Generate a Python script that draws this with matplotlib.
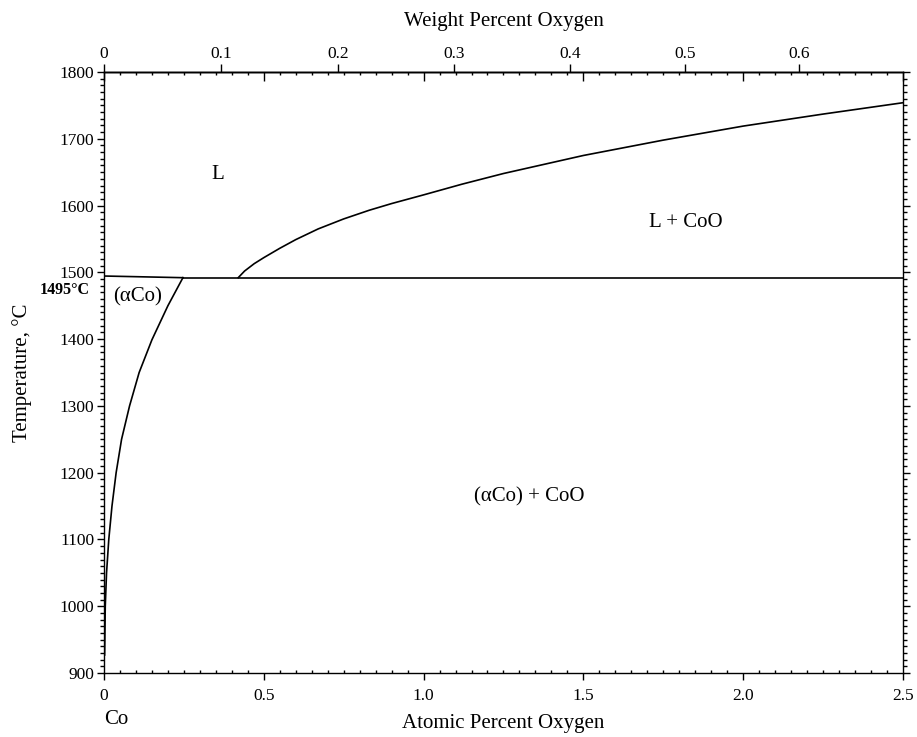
"""
Co-O phase diagram (Co-rich end), atomic percent on the bottom,
weight percent on top. Boundaries read off the reference figure.
"""

import matplotlib
matplotlib.use("Agg")
import matplotlib.pyplot as plt
import numpy as np
from matplotlib.ticker import MultipleLocator, NullFormatter

plt.rcParams["font.family"] = ["Liberation Serif", "DejaVu Serif"]

M_CO = 58.933
M_O = 15.999

# solidus/solvus of (aCo): at.% O, deg C
solvus_x = [0.002, 0.004, 0.008, 0.015, 0.025, 0.038, 0.055, 0.08, 0.11, 0.15, 0.2, 0.247]
solvus_t = [927, 1000, 1050, 1100, 1150, 1200, 1250, 1300, 1350, 1399, 1450, 1492]

# liquidus Co side, nearly flat
liq_co_x = [0.0, 0.1, 0.247]
liq_co_t = [1494.5, 1493.5, 1492]

# eutectic / monotectic horizontal
eut_x = [0.247, 2.5]
eut_t = [1492, 1492]

# liquidus of CoO
liq_x = [0.42, 0.44, 0.47, 0.5, 0.55, 0.6, 0.67, 0.75, 0.83, 0.9, 1.0, 1.12,
         1.25, 1.5, 1.75, 2.0, 2.25, 2.5]
liq_t = [1492, 1502, 1513, 1522, 1536, 1549, 1565, 1580, 1593, 1603, 1616, 1632,
         1648, 1675, 1698, 1719, 1737, 1754]

labels = ["L", "L + CoO", "(\u03b1Co)", "(\u03b1Co) + CoO"]
label_x = [0.355, 1.82, 0.105, 1.33]
label_t = [1646, 1575, 1463, 1164]

wt_ticks = [0, 0.1, 0.2, 0.3, 0.4, 0.5, 0.6]


def at2wt(a):
    a = np.asarray(a, dtype=float)
    return 100 * a * M_O / (a * M_O + (100 - a) * M_CO)


def wt2at(w):
    w = np.asarray(w, dtype=float)
    return 100 * (w / M_O) / (w / M_O + (100 - w) / M_CO)


fig = plt.figure(figsize=(9.17, 7.37), dpi=100)
ax = fig.add_axes([0.1134, 0.0868, 0.8713, 0.8155])

line_kw = dict(color="black", lw=1.2)
ax.plot(solvus_x, solvus_t, **line_kw)
ax.plot(liq_co_x, liq_co_t, **line_kw)
ax.plot(eut_x, eut_t, **line_kw)
ax.plot(liq_x, liq_t, **line_kw)

for s, x, t in zip(labels, label_x, label_t):
    ax.text(x, t, s, ha="center", va="center", fontsize=15)

ax.set_xlim(0, 2.5)
ax.set_ylim(900, 1800)

for sp in ax.spines.values():
    sp.set_linewidth(1.0)

# bottom: atomic percent
ax.xaxis.set_minor_locator(MultipleLocator(0.05))
ax.set_xticks([0, 0.5, 1.0, 1.5, 2.0, 2.5])
ax.set_xticklabels(["0", "0.5", "1.0", "1.5", "2.0", "2.5"])
ax.tick_params(axis="x", which="major", direction="out", length=5, width=1,
               labelsize=12.5, pad=6)
ax.tick_params(axis="x", which="minor", direction="in", length=2.5, width=1)

# left / right: temperature
ax.yaxis.set_major_locator(MultipleLocator(100))
ax.yaxis.set_minor_locator(MultipleLocator(10))
ax.tick_params(axis="y", which="both", direction="out", right=True,
               width=1, labelsize=12.5, pad=2)
ax.tick_params(axis="y", which="major", length=5)
ax.tick_params(axis="y", which="minor", length=2.8)

ax.set_xlabel("Atomic Percent Oxygen", fontsize=15, labelpad=7)
ax.set_ylabel("Temperature, \u00b0C", fontsize=15, labelpad=20)

# top: atomic percent ticks pointing in
top_at = ax.secondary_xaxis("top")
top_at.xaxis.set_major_locator(MultipleLocator(0.5))
top_at.xaxis.set_minor_locator(MultipleLocator(0.05))
top_at.xaxis.set_major_formatter(NullFormatter())
top_at.tick_params(which="major", direction="in", length=6.5, width=1)
top_at.tick_params(which="minor", direction="in", length=2.5, width=1)
top_at.spines["top"].set_linewidth(1.0)

# top: weight percent ticks pointing out
top_wt = ax.secondary_xaxis("top", functions=(at2wt, wt2at))
top_wt.set_xticks(wt_ticks)
top_wt.set_xticklabels(["0", "0.1", "0.2", "0.3", "0.4", "0.5", "0.6"])
top_wt.xaxis.set_minor_locator(plt.NullLocator())
top_wt.tick_params(which="major", direction="out", length=5.5, width=1,
                   labelsize=12.5, pad=2)
top_wt.spines["top"].set_linewidth(1.0)
top_wt.set_xlabel("Weight Percent Oxygen", fontsize=15, labelpad=14)

ax.text(-0.018, 1473, "1495\u00b0C", transform=ax.get_yaxis_transform(),
        ha="right", va="center", fontsize=11.5, fontweight="bold")
ax.text(0.0, -0.078, "Co", transform=ax.get_xaxis_transform(),
        ha="left", va="center", fontsize=15)

fig.savefig("out.png", dpi=100)
